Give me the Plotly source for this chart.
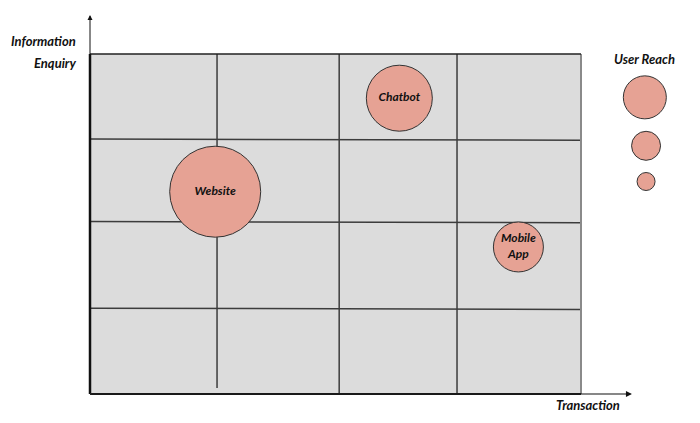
import plotly.graph_objects as go

# ---- data ----
channels = ["Website", "Chatbot", "Mobile<br>App"]
transaction = [1.02, 2.52, 3.49]          # x position (Transaction)
information = [2.38, 3.48, 1.73]          # y position (Information Enquiry)
user_reach = [91, 66, 50]                 # bubble diameter ~ reach

legend_reach = [43, 29, 18]
legend_x = [4.52, 4.53, 4.53]
legend_y = [3.49, 2.92, 2.50]

grid_x = [1.035, 2.03, 2.99]
grid_x_bottom = [0.07, 0.0, 0.0]
grid_y = [3.0, 2.03, 1.01]
x_max, y_max = 4.0, 4.0

FONT = "Lato"
fill = "#E6A294"
edge = "#333333"

# axis ranges chosen so the quadrant box sits where it does in the layout
x_range = [-0.668, 5.0346]
y_range = [-0.4353, 4.5412]

fig = go.Figure()

shapes = [dict(type="rect", xref="x", yref="y", x0=0, x1=x_max, y0=0, y1=y_max,
               fillcolor="#DCDCDC", line=dict(width=0), layer="below")]
for gx, gb in zip(grid_x, grid_x_bottom):
    shapes.append(dict(type="line", xref="x", yref="y", x0=gx, x1=gx, y0=gb, y1=y_max,
                       line=dict(color="#3c3c3c", width=1.5), layer="below"))
for gy in grid_y:
    shapes.append(dict(type="line", xref="x", yref="y", x0=0, x1=x_max, y0=gy, y1=gy - 0.015,
                       line=dict(color="#3c3c3c", width=1.5), layer="below"))
# border
shapes.append(dict(type="line", xref="x", yref="y", x0=x_max, x1=x_max, y0=0, y1=y_max,
                   line=dict(color="#8a8a8a", width=2), layer="below"))
shapes.append(dict(type="line", xref="x", yref="y", x0=0, x1=x_max, y0=y_max, y1=y_max,
                   line=dict(color="#222222", width=1.5), layer="below"))
shapes.append(dict(type="line", xref="x", yref="y", x0=0, x1=0, y0=0, y1=y_max,
                   line=dict(color="#111111", width=2.5), layer="below"))
shapes.append(dict(type="line", xref="x", yref="y", x0=0, x1=x_max, y0=0, y1=0,
                   line=dict(color="#222222", width=2), layer="below"))

fig.add_trace(go.Scatter(
    x=transaction, y=information, mode="markers+text", text=channels,
    textposition="middle center",
    textfont=dict(family=FONT, size=12, color="#111111", style="italic", weight="bold"),
    marker=dict(size=user_reach, sizemode="diameter", color=fill,
                line=dict(color=edge, width=1), opacity=1),
    hoverinfo="skip", showlegend=False))

fig.add_trace(go.Scatter(
    x=legend_x, y=legend_y, mode="markers",
    marker=dict(size=legend_reach, sizemode="diameter", color=fill,
                line=dict(color=edge, width=1), opacity=1),
    hoverinfo="skip", showlegend=False))

lab = dict(family=FONT, size=13, color="#111111", style="italic", weight="bold")
annotations = [
    dict(x=4.415, y=0, ax=0, ay=0, xref="x", yref="y", axref="x", ayref="y",
         showarrow=True, arrowhead=2, arrowsize=1, arrowwidth=1.2, arrowcolor="#111111", text=""),
    dict(x=0, y=4.46, ax=0, ay=0, xref="x", yref="y", axref="x", ayref="y",
         showarrow=True, arrowhead=2, arrowsize=1, arrowwidth=1, arrowcolor="#111111", text=""),
    dict(x=4.52, y=3.94, xref="x", yref="y", text="User Reach", showarrow=False, font=lab),
    dict(x=4.06, y=-0.13, xref="x", yref="y", text="Transaction", showarrow=False, font=lab),
    dict(x=-0.1, y=4.155, xref="x", yref="y", text="Information", showarrow=False,
         xanchor="right", font=lab),
    dict(x=-0.1, y=3.90, xref="x", yref="y", text="Enquiry", showarrow=False,
         xanchor="right", font=lab),
]

fig.update_layout(
    width=700, height=423,
    margin=dict(l=0, r=0, t=0, b=0, autoexpand=False),
    paper_bgcolor="white", plot_bgcolor="white",
    shapes=shapes, annotations=annotations,
    xaxis=dict(range=x_range, showgrid=False, zeroline=False, showticklabels=False,
               showline=False, ticks="", fixedrange=True),
    yaxis=dict(range=y_range, showgrid=False, zeroline=False, showticklabels=False,
               showline=False, ticks="", fixedrange=True),
)

fig.write_html("out.html")
